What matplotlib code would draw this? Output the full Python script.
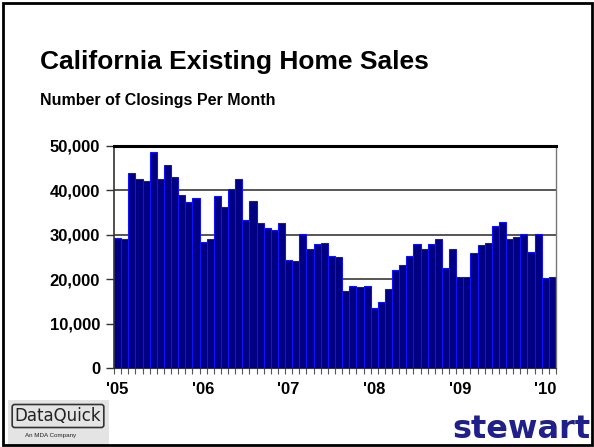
import numpy as np
import matplotlib
matplotlib.use("Agg")
import matplotlib.pyplot as plt
from matplotlib.patches import Rectangle

plt.rcParams['font.family'] = ['Liberation Sans', 'DejaVu Sans']

# monthly closings, Jan 2005 .. Feb 2010
sales_2005 = [29200, 28950, 43950, 42600, 42150, 48500, 42600, 45700, 43000, 39000, 37400, 38300]
sales_2006 = [28350, 28950, 38700, 36200, 40200, 42450, 33200, 37600, 32600, 31400, 31100, 32600]
sales_2007 = [24400, 24100, 30100, 26700, 27900, 28100, 25300, 25000, 17400, 18450, 18200, 18450]
sales_2008 = [13500, 14800, 17700, 22000, 23100, 25300, 27900, 26700, 27800, 29100, 22600, 26850]
sales_2009 = [20400, 20400, 25900, 27600, 28100, 31950, 32900, 29000, 29400, 30100, 26100, 30100]
sales_2010 = [20300, 20500]
year_labels = ["'05", "'06", "'07", "'08", "'09", "'10"]

sales = sales_2005 + sales_2006 + sales_2007 + sales_2008 + sales_2009 + sales_2010
x = np.arange(len(sales))

fig = plt.figure(figsize=(5.94, 4.47), dpi=100)
ax = fig.add_axes([114 / 594, 1 - 368 / 447, 442 / 594, 222.3 / 447])

ax.bar(x, sales, width=1.0, color='#000080', edgecolor='#1010ff', linewidth=0.8, zorder=2)

ax.set_xlim(-0.5, len(sales) - 0.5)
ax.set_ylim(0, 50000)
ax.set_yticks(np.arange(0, 50001, 10000))
ax.set_yticklabels([f"{v:,}" for v in range(0, 50001, 10000)], fontsize=12, fontweight='bold')
ax.set_xticks(np.arange(0, len(sales), 12))
ax.set_xticklabels(year_labels, fontsize=12, fontweight='bold')
ax.set_xticks(np.arange(-0.5, len(sales), 1), minor=True)
ax.tick_params(axis='x', which='major', length=0, pad=10)
ax.tick_params(axis='x', which='minor', length=4, width=0.8, color='#555555')
ax.tick_params(axis='y', length=6, width=1, color='#333333', pad=4)

ax.yaxis.grid(True, color='#555555', linewidth=1.4)
ax.set_axisbelow(True)
ax.spines['top'].set_linewidth(2.2)
ax.spines['top'].set_color('black')
ax.spines['right'].set_color('#777777')
ax.spines['right'].set_linewidth(1)
ax.spines['left'].set_color('#333333')
ax.spines['left'].set_linewidth(1.2)
ax.spines['bottom'].set_color('#333333')

fig.text(40 / 594, 1 - 62 / 447, "California Existing Home Sales", fontsize=19,
         fontweight='bold', va='center', ha='left')
fig.text(40 / 594, 1 - 100 / 447, "Number of Closings Per Month", fontsize=11.5,
         fontweight='bold', va='center', ha='left')

# DataQuick logo
fig.patches.append(Rectangle((8 / 594, 1 - 446 / 447), 101 / 594, 46 / 447,
                             transform=fig.transFigure, facecolor='#e4e4e4',
                             edgecolor='none', zorder=1))
fig.text(58 / 594, 1 - 416 / 447, "DataQuick", fontsize=12, color='#222222',
         va='center', ha='center', family=['DejaVu Sans'],
         bbox=dict(boxstyle='round,pad=0.15', facecolor='none', edgecolor='#333333', linewidth=1.2))
fig.text(25 / 594, 1 - 436 / 447, "An MDA Company", fontsize=4.5, color='#222222',
         va='center', ha='left')

# stewart logo
fig.text(590 / 594, 1.5 / 447, "stewart", fontsize=23, fontweight='bold',
         color='#20208a', va='bottom', ha='right', family=['DejaVu Sans'])

# slide frame
fig.patches.append(Rectangle((3 / 594, 2 / 447), 589 / 594, 442 / 447,
                             transform=fig.transFigure, facecolor='none',
                             edgecolor='black', linewidth=2, zorder=5))

fig.savefig("out.png", dpi=100)
